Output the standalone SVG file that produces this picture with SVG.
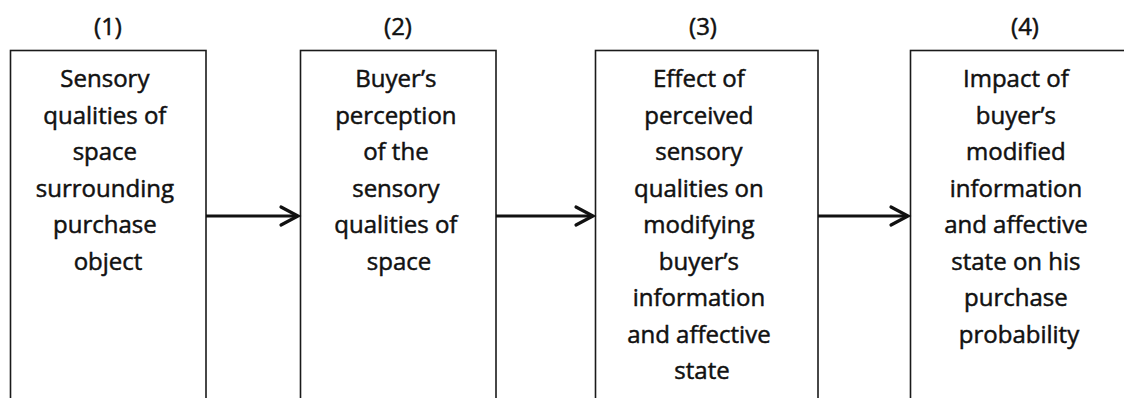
<svg xmlns="http://www.w3.org/2000/svg" width="1124" height="398" viewBox="0 0 1124 398">
  <defs>
    <style>
      .box { fill: #ffffff; stroke: #1a1a1a; stroke-width: 1.6; }
      .label { font-family: "Open Sans", "Liberation Sans", sans-serif; font-size: 24px; fill: #111111; stroke: #111111; stroke-width: 0.5; text-anchor: middle; }
      .link { fill: none; stroke: #111111; stroke-width: 2.8; }
      .head { fill: none; stroke: #111111; stroke-width: 3.2; stroke-linecap: round; stroke-linejoin: miter; }
    </style>
  </defs>
  <rect width="1124" height="398" fill="#ffffff"/>

  <!-- Stage 1 -->
  <g id="stage1">
    <text class="label" x="108" y="35">(1)</text>
    <rect class="box" x="10.5" y="50.5" width="195.5" height="360"/>
    <text class="label" x="108" y="87">
      <tspan x="108" y="87">Sensory</tspan>
      <tspan x="108" y="123.5">qualities of</tspan>
      <tspan x="108" y="160">space</tspan>
      <tspan x="108" y="196.5">surrounding</tspan>
      <tspan x="108" y="233">purchase</tspan>
      <tspan x="108" y="269.5">object</tspan>
    </text>
  </g>

  <!-- Stage 2 -->
  <g id="stage2">
    <text class="label" x="398" y="35">(2)</text>
    <rect class="box" x="300.5" y="50.5" width="195.5" height="360"/>
    <text class="label" x="399" y="87">
      <tspan x="399" y="87">Buyer’s</tspan>
      <tspan x="399" y="123.5">perception</tspan>
      <tspan x="399" y="160">of the</tspan>
      <tspan x="399" y="196.5">sensory</tspan>
      <tspan x="399" y="233">qualities of</tspan>
      <tspan x="399" y="269.5">space</tspan>
    </text>
  </g>

  <!-- Stage 3 -->
  <g id="stage3">
    <text class="label" x="703" y="35">(3)</text>
    <rect class="box" x="595.5" y="50.5" width="222.5" height="360"/>
    <text class="label" x="702" y="87">
      <tspan x="702" y="87">Effect of</tspan>
      <tspan x="702" y="123.5">perceived</tspan>
      <tspan x="702" y="160">sensory</tspan>
      <tspan x="702" y="196.5">qualities on</tspan>
      <tspan x="702" y="233">modifying</tspan>
      <tspan x="702" y="269.5">buyer’s</tspan>
      <tspan x="702" y="306">information</tspan>
      <tspan x="702" y="342.5">and affective</tspan>
      <tspan x="702" y="379">state</tspan>
    </text>
  </g>

  <!-- Stage 4 (runs past the right edge) -->
  <g id="stage4">
    <text class="label" x="1025" y="35">(4)</text>
    <rect class="box" x="910.5" y="50.5" width="230" height="360"/>
    <text class="label" x="1019" y="87">
      <tspan x="1019" y="87">Impact of</tspan>
      <tspan x="1019" y="123.5">buyer’s</tspan>
      <tspan x="1019" y="160">modified</tspan>
      <tspan x="1019" y="196.5">information</tspan>
      <tspan x="1019" y="233">and affective</tspan>
      <tspan x="1019" y="269.5">state on his</tspan>
      <tspan x="1019" y="306">purchase</tspan>
      <tspan x="1019" y="342.5">probability</tspan>
    </text>
  </g>

  <!-- Connectors -->
  <g id="connectors">
    <line class="link" x1="206" y1="216" x2="297" y2="216"/>
    <polyline class="head" points="281,207 298,216 281,225"/>
    <line class="link" x1="496" y1="216" x2="592" y2="216"/>
    <polyline class="head" points="576,207 593,216 576,225"/>
    <line class="link" x1="818" y1="216" x2="907" y2="216"/>
    <polyline class="head" points="891,207 908,216 891,225"/>
  </g>
</svg>
